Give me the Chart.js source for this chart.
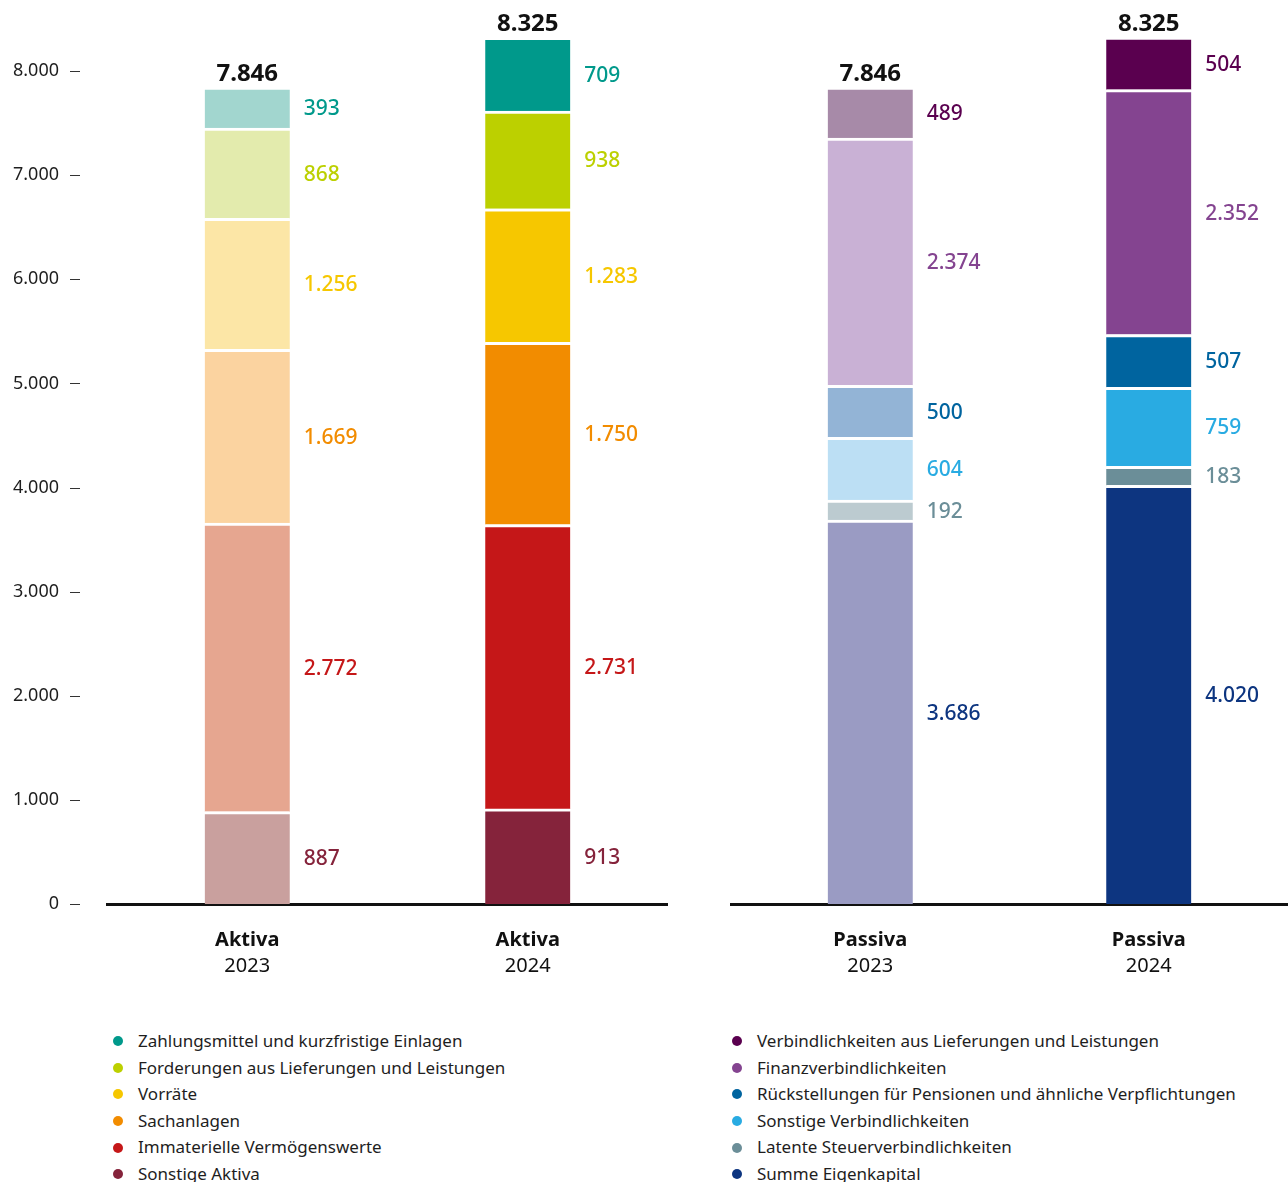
<!DOCTYPE html>
<html><head><meta charset="utf-8">
<script src="https://cdn.jsdelivr.net/npm/chart.js@4.4.1/dist/chart.umd.min.js"></script>
<style>
html,body{margin:0;padding:0;background:#fff;width:1288px;height:1182px;overflow:hidden;font-family:"Noto Sans",sans-serif;}
#cA{position:absolute;left:0;top:0;}
#cP{position:absolute;left:700px;top:0;}
.leg{position:absolute;font-size:17px;color:#1e1e1e;line-height:26.6px;}
.leg div{position:relative;padding-left:20px;white-space:nowrap;}
.leg span{position:absolute;left:-5px;top:8.3px;width:10px;height:10px;border-radius:50%;}
</style></head>
<body>
<canvas id="cA" width="668" height="1000"></canvas>
<canvas id="cP" width="588" height="1000"></canvas>
<div class="leg" id="legA" style="left:118px;top:1028px"></div>
<div class="leg" id="legP" style="left:737px;top:1028px"></div>
<script>
// ---- data ----
const aktivaCats = [['Aktiva','2023'],['Aktiva','2024']];
const passivaCats = [['Passiva','2023'],['Passiva','2024']];
const aktivaTotals = [7846, 8325];
const passivaTotals = [7846, 8325];
const yTicks = [0,1000,2000,3000,4000,5000,6000,7000,8000];

// Aktiva series (stacked bottom -> top)
const sonstigeAktiva = [887, 913];
const immaterielle = [2772, 2731];
const sachanlagen = [1669, 1750];
const vorraete = [1256, 1283];
const forderungen = [868, 938];
const zahlungsmittel = [393, 709];

// Passiva series (stacked bottom -> top)
const eigenkapital = [3686, 4020];
const latenteSteuer = [192, 183];
const sonstigeVerb = [604, 759];
const rueckstellungen = [500, 507];
const finanzverb = [2374, 2352];
const verbLuL = [489, 504];

// ---- styles ----
const FONT = '"Noto Sans", sans-serif';
const aktivaSeries = [
  {label:'Sonstige Aktiva', data:sonstigeAktiva, light:'#c9a09e', dark:'#85233b'},
  {label:'Immaterielle Vermögenswerte', data:immaterielle, light:'#e6a690', dark:'#c51718'},
  {label:'Sachanlagen', data:sachanlagen, light:'#fbd3a0', dark:'#f28c00'},
  {label:'Vorräte', data:vorraete, light:'#fce6a6', dark:'#f6c700'},
  {label:'Forderungen aus Lieferungen und Leistungen', data:forderungen, light:'#e3ebad', dark:'#bcd000'},
  {label:'Zahlungsmittel und kurzfristige Einlagen', data:zahlungsmittel, light:'#a2d6cf', dark:'#00998b'}
];
const passivaSeries = [
  {label:'Summe Eigenkapital', data:eigenkapital, light:'#9a9bc3', dark:'#0d3580'},
  {label:'Latente Steuerverbindlichkeiten', data:latenteSteuer, light:'#bccbd0', dark:'#6b8e98'},
  {label:'Sonstige Verbindlichkeiten', data:sonstigeVerb, light:'#bcdff4', dark:'#29abe2'},
  {label:'Rückstellungen für Pensionen und ähnliche Verpflichtungen', data:rueckstellungen, light:'#93b4d6', dark:'#00649f'},
  {label:'Finanzverbindlichkeiten', data:finanzverb, light:'#c9b1d5', dark:'#844490'},
  {label:'Verbindlichkeiten aus Lieferungen und Leistungen', data:verbLuL, light:'#a78aa8', dark:'#5a004f'}
];

function fmt(v){ return String(v).replace(/\B(?=(\d{3})+(?!\d))/g,'.'); }

function makeDatasets(series){
  return series.map(s => ({
    label: s.label,
    data: s.data,
    backgroundColor: [s.light, s.dark],
    labelColor: s.dark,
    borderColor: '#ffffff',
    borderWidth: {top:3, bottom:0, left:0, right:0},
    borderSkipped: false,
    barThickness: 85,
    clip: false
  }));
}

const labelPlugin = {
  id: 'labels',
  afterDraw(chart){
    const ctx = chart.ctx;
    const totals = chart.options.plugins.labels.totals;
    const cats = chart.data.labels;
    ctx.save();
    chart.data.datasets.forEach((ds, di) => {
      const meta = chart.getDatasetMeta(di);
      meta.data.forEach((el, i) => {
        const y = (el.y + 3 + el.base) / 2;
        ctx.font = '500 21px ' + FONT;
        ctx.fillStyle = ds.labelColor;
        ctx.textAlign = 'left';
        ctx.textBaseline = 'middle';
        ctx.fillText(fmt(ds.data[i]), el.x + el.width/2 + 14, y);
      });
    });
    const topMeta = chart.getDatasetMeta(chart.data.datasets.length - 1);
    topMeta.data.forEach((el, i) => {
      ctx.font = 'bold 24px ' + FONT;
      ctx.fillStyle = '#111';
      ctx.textAlign = 'center';
      ctx.textBaseline = 'alphabetic';
      ctx.fillText(fmt(totals[i]), el.x, el.y - 6);
    });
    const xs = chart.scales.x;
    const bottom = chart.chartArea.bottom;
    cats.forEach((c, i) => {
      const x = xs.getPixelForValue(i);
      ctx.textAlign = 'center';
      ctx.textBaseline = 'middle';
      ctx.fillStyle = '#111';
      ctx.font = 'bold 20px ' + FONT;
      ctx.fillText(c[0], x, bottom + 36);
      ctx.font = '20px ' + FONT;
      ctx.fillText(c[1], x, bottom + 62);
    });
    const ys = chart.scales.y;
    if (ys.options.display) {
      ctx.strokeStyle = '#333';
      ctx.lineWidth = 1;
      ys.ticks.forEach(t => {
        const y = Math.round(ys.getPixelForValue(t.value)) + 0.5;
        ctx.beginPath(); ctx.moveTo(70, y); ctx.lineTo(80, y); ctx.stroke();
      });
    }
    ctx.restore();
  }
};

function makeChart(id, cats, series, totals, showY, padLeft){
  return new Chart(document.getElementById(id), {
    type: 'bar',
    data: { labels: cats, datasets: makeDatasets(series) },
    plugins: [labelPlugin],
    options: {
      responsive: false,
      animation: false,
      layout: { padding: { top: 71, left: padLeft, right: 0, bottom: 0 } },
      plugins: { legend: {display:false}, tooltip: {enabled:false}, labels: { totals: totals } },
      scales: {
        x: {
          stacked: true, z: 1,
          grid: { display: true, drawOnChartArea: false, drawTicks: false },
          border: { display: true, color: '#111', width: 3 },
          ticks: { display: false },
          afterFit(s){ s.height = 96; }
        },
        y: {
          stacked: true, display: showY, min: 0, max: 8000,
          afterBuildTicks(s){ s.ticks = yTicks.map(v => ({value: v})); },
          grid: { display: false },
          border: { display: false },
          ticks: { padding: 40, color: '#1e1e1e', font: { family: FONT, size: 18 }, callback: v => fmt(v) },
          afterFit(s){ if (showY) s.width = 107; }
        }
      }
    }
  });
}

makeChart('cA', aktivaCats, aktivaSeries, aktivaTotals, true, 0);
makeChart('cP', passivaCats, passivaSeries, passivaTotals, false, 31);

function legend(id, series){
  const el = document.getElementById(id);
  series.slice().reverse().forEach(s => {
    const d = document.createElement('div');
    const dot = document.createElement('span');
    dot.style.background = s.dark;
    d.appendChild(dot);
    d.appendChild(document.createTextNode(s.label));
    el.appendChild(d);
  });
}
legend('legA', aktivaSeries);
legend('legP', passivaSeries);
</script>
</body></html>
